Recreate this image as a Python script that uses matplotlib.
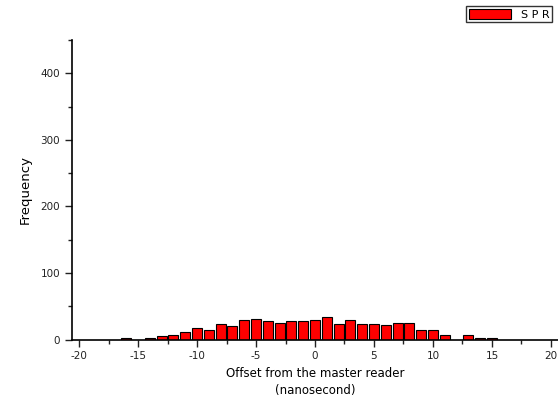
import matplotlib
matplotlib.use("Agg")
import matplotlib.pyplot as plt
from matplotlib.ticker import MultipleLocator

plt.rcParams["axes.unicode_minus"] = False

offsets = [-16, -14, -13, -12, -11, -10, -9, -8, -7, -6, -5, -4, -3, -2, -1,
           0, 1, 2, 3, 4, 5, 6, 7, 8, 9, 10, 11, 13, 14, 15]
counts = [2.5, 2.5, 5, 6.5, 11, 17, 15, 23.5, 21, 29.5, 31.5, 27.5, 25, 27.5, 27.5,
          30, 33.5, 23.5, 29.5, 23.5, 23.5, 21.5, 25.5, 25.5, 15, 15, 6.5, 6.5, 2.5, 2.5]
series_name = "S P R"
x_label = "Offset from the master reader\n(nanosecond)"
y_label = "Frequency"

fig = plt.figure(figsize=(5.58, 4.04), dpi=100)
ax = fig.add_axes([72/558, (404-339.5)/404, 1 - 72/558, (339.5-40)/404])

bars = ax.bar(offsets, counts, width=0.85, color="#ff0000", edgecolor="black",
              linewidth=0.8, label=series_name)

ax.set_xlim(-20.6, 20.6)
ax.set_ylim(0, 450)
ax.xaxis.set_major_locator(MultipleLocator(5))
ax.xaxis.set_minor_locator(MultipleLocator(2.5))
ax.yaxis.set_major_locator(MultipleLocator(100))
ax.yaxis.set_minor_locator(MultipleLocator(50))
ax.set_yticks([0, 100, 200, 300, 400])
ax.tick_params(which="both", direction="out", width=1, labelsize=7.5, colors="#222222")
ax.tick_params(which="major", length=5)
ax.tick_params(which="minor", length=3)
ax.spines["top"].set_visible(False)
ax.spines["right"].set_visible(False)
ax.spines["left"].set_linewidth(1.2)
ax.spines["bottom"].set_linewidth(1.2)

ax.set_xlabel(x_label, fontsize=8.5, linespacing=1.4, labelpad=4)
ax.set_ylabel(y_label, fontsize=9.5, labelpad=6)

leg = fig.legend(handles=[bars], labels=[series_name], loc="upper left",
                 bbox_to_anchor=(466/558, 1 - 6/404), fontsize=8,
                 frameon=True, fancybox=False, edgecolor="black",
                 handlelength=3.8, handleheight=1.0, borderpad=0.25,
                 handletextpad=0.9, borderaxespad=0)
leg.get_frame().set_linewidth(1.0)

fig.savefig("out.png", dpi=100)
